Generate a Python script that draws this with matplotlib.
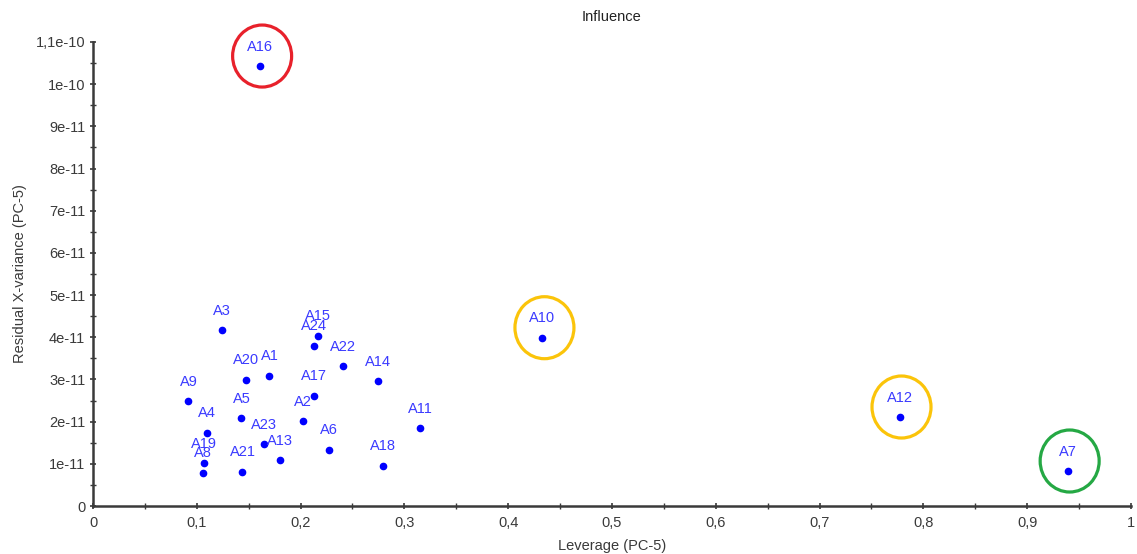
import numpy as np
import matplotlib
matplotlib.use('Agg')
import matplotlib.pyplot as plt
import matplotlib.transforms as mtrans
from matplotlib.patches import Ellipse
from matplotlib.ticker import MultipleLocator, FuncFormatter

plt.rcParams['font.family'] = ['Liberation Sans', 'DejaVu Sans']

# samples: leverage and residual X-variance (PC-5)
names = ['A1', 'A2', 'A3', 'A4', 'A5', 'A6', 'A7', 'A8', 'A9', 'A10', 'A11', 'A12',
         'A13', 'A14', 'A15', 'A16', 'A17', 'A18', 'A19', 'A20', 'A21', 'A22', 'A23', 'A24']
leverage = [0.170, 0.202, 0.1245, 0.110, 0.143, 0.227, 0.939, 0.106, 0.092, 0.433, 0.315, 0.777,
            0.180, 0.275, 0.217, 0.161, 0.213, 0.279, 0.107, 0.147, 0.144, 0.2405, 0.165, 0.213]
resid = np.array([3.09, 2.01, 4.17, 1.74, 2.08, 1.33, 0.83, 0.79, 2.48, 3.99, 1.84, 2.11,
                  1.09, 2.96, 4.04, 10.43, 2.61, 0.955, 1.02, 2.99, 0.81, 3.32, 1.46, 3.80]) * 1e-11

# highlighted samples
marked = ['A16', 'A10', 'A12', 'A7']
mark_col = ['#e8212b', '#fbc40a', '#fbc40a', '#25a844']

fig = plt.figure(figsize=(11.37, 5.54), dpi=100)
ax = fig.add_axes([0.0818, 0.0866, 0.9129, 0.8376])

ax.plot(leverage, resid, 'o', color='#0000ff', markersize=4.5, clip_on=False, zorder=3)
for n, x, y in zip(names, leverage, resid):
    ax.annotate(n, (x, y), xytext=(0, 14), textcoords='offset points',
                ha='center', va='center', fontsize=10.5, color='#3a3aff')

for n, c in zip(marked, mark_col):
    i = names.index(n)
    tr = fig.dpi_scale_trans + mtrans.ScaledTranslation(leverage[i], resid[i], ax.transData)
    e = Ellipse((0.02, 0.10), 0.59, 0.62, transform=tr, fill=False,
                edgecolor=c, linewidth=2.3, clip_on=False)
    ax.add_patch(e)

ax.set_xlim(0, 1)
ax.set_ylim(0, 1.1e-10)
ax.xaxis.set_major_locator(MultipleLocator(0.1))
ax.xaxis.set_minor_locator(MultipleLocator(0.05))
ax.yaxis.set_major_locator(MultipleLocator(1e-11))
ax.yaxis.set_minor_locator(MultipleLocator(0.5e-11))

def xfmt(v, pos):
    return ('%g' % round(v, 2)).replace('.', ',')

def yfmt(v, pos):
    if abs(v) < 1e-15:
        return '0'
    s = '%.1e' % v
    m, ex = s.split('e')
    m = m.rstrip('0').rstrip('.').replace('.', ',')
    return '%se%d' % (m, int(ex))

ax.xaxis.set_major_formatter(FuncFormatter(xfmt))
ax.yaxis.set_major_formatter(FuncFormatter(yfmt))

for s in ['top', 'right']:
    ax.spines[s].set_visible(False)
for s in ['left', 'bottom']:
    ax.spines[s].set_linewidth(1.8)
    ax.spines[s].set_color('#3a3a3a')
ax.tick_params(which='major', direction='inout', length=5, width=1.2, color='#3a3a3a',
               labelsize=10.5, labelcolor='#3a3a3a')
ax.tick_params(which='minor', direction='inout', length=4, width=1.0, color='#3a3a3a')
ax.tick_params(axis='x', which='major', pad=5)
ax.tick_params(axis='y', which='major', pad=3)

ax.set_title('Influence', fontsize=10.5, color='#222222', pad=15)
ax.set_xlabel('Leverage (PC-5)', fontsize=10.5, color='#3a3a3a', labelpad=6)
ax.set_ylabel('Residual X-variance (PC-5)', fontsize=10.5, color='#3a3a3a', labelpad=6)

plt.savefig('out.png', dpi=100)
